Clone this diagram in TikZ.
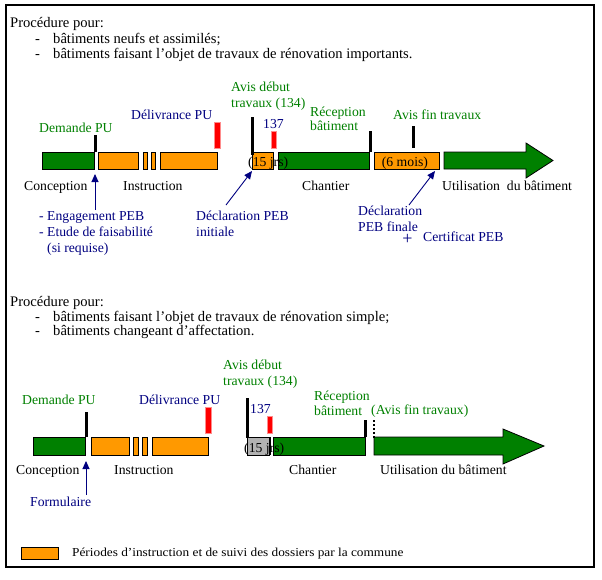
\documentclass[tikz,border=0pt]{standalone}
\usepackage{fontspec}
\setmainfont{Liberation Serif}
\usetikzlibrary{arrows.meta}
\definecolor{pgreen}{HTML}{008000}
\definecolor{porange}{HTML}{FF9900}
\definecolor{pnavy}{HTML}{000080}
\definecolor{pred}{HTML}{FF0000}
\definecolor{pgrey}{HTML}{B2B2B2}
\begin{document}
\begin{tikzpicture}[x=1pt,y=-1pt,
  lbl/.style={anchor=base west, inner sep=0pt, font=\fontsize{13.7}{16}\selectfont},
  para/.style={lbl, font=\fontsize{14.6}{17}\selectfont},
  gtxt/.style={lbl, text=pgreen},
  btxt/.style={lbl, text=pnavy},
  bar/.style={draw=black, line width=0.8pt},
  gbar/.style={bar, fill=pgreen},
  obar/.style={bar, fill=porange},
  greybar/.style={bar, fill=pgrey},
  rbar/.style={fill=pred, draw=pred!45, line width=0.6pt},
  tickline/.style={line width=3pt, black},
  pebarrow/.style={-{Triangle[length=8pt,width=7pt]}, draw=pnavy, line width=0.9pt},
  bigarrow/.style={draw=black, line width=0.8pt, fill=pgreen}]
\useasboundingbox (0,0) rectangle (602,579);
\draw[line width=1.5pt] (6,5) rectangle (594,567);

% ---------- Section 1 ----------
\node[para] (t1) at (10,27) {Procédure pour:};
\node[para] (d1a) at (35,43) {-};
\node[para] (l1a) at (53,43) {bâtiments neufs et assimilés;};
\node[para] (d1b) at (35,58.5) {-};
\node[para] (l1b) at (53,58.5) {bâtiments faisant l’objet de travaux de rénovation importants.};

% bars
\draw[gbar] (42,152) rectangle (94,169);
\draw[obar] (98,152) rectangle (138,169);
\draw[obar] (143,152) rectangle (147,169);
\draw[obar] (151,152) rectangle (155,169);
\draw[obar] (160,152) rectangle (217,169);
\draw[obar] (252,152) rectangle (273,169);
\draw[gbar] (278,152) rectangle (369,169);
\draw[obar] (374,152) rectangle (439,169);
\draw[bigarrow] (444,152) -- (526,152) -- (526,143) -- (553,160.5) -- (526,178) -- (526,169) -- (444,169) -- cycle;
\fill[rbar] (214,122) rectangle (220,148);
\fill[rbar] (271,131) rectangle (276,148);
\draw[tickline] (95,135) -- (95,152);
\draw[tickline] (252,117) -- (252,155);
\draw[tickline] (370,131) -- (370,152);
\draw[tickline] (413,126) -- (413,148);

\node[gtxt] (ad1) at (231,91.7) {Avis début};
\node[gtxt] (ad1b) at (231,107.3) {travaux (134)};
\node[btxt] (dl1) at (131,119.5) {Délivrance PU};
\node[gtxt] (dm1) at (39,132.7) {Demande PU};
\node[btxt] (n137a) at (263,128.3) {137};
\node[gtxt] (rc1) at (310,116) {Réception};
\node[gtxt] (rc1b) at (310,130.7) {bâtiment};
\node[gtxt] (af1) at (393,119.3) {Avis fin travaux};
\node[lbl] (j1) at (248,166.5) {(15 jrs)};
\node[lbl] (m6) at (381.7,166) {(6 mois)};
\node[lbl] (cp1) at (24,190) {Conception};
\node[lbl] (in1) at (123,190) {Instruction};
\node[lbl] (ch1) at (302,190) {Chantier};
\node[lbl] (ut1) at (442,190) {Utilisation\ \ du bâtiment};

\node[btxt] (eg1) at (39,220.7) {- Engagement PEB};
\node[btxt] (et1) at (39,236.7) {- Etude de faisabilité};
\node[btxt] (sr1) at (47,252.5) {(si requise)};
\node[btxt] (dpi) at (196,220.7) {Déclaration PEB};
\node[btxt] (dpi2) at (196,236.7) {initiale};
\node[btxt] (dpf) at (358,215.7) {Déclaration};
\node[btxt] (dpf2) at (358,231.7) {PEB finale};
\node[text=pnavy, inner sep=0pt, font=\fontsize{18}{18}\selectfont] (plus) at (407.5,239) {+};
\node[btxt] (cert) at (423,241.7) {Certificat PEB};

\coordinate (a1s) at (95,210);
\coordinate (a1e) at (95,174);
\coordinate (a2s) at (226,205);
\coordinate (a2e) at (252,171);
\coordinate (a3s) at (409,205);
\coordinate (a3e) at (435,171);
\draw[pebarrow] (a1s) -- (a1e);
\draw[pebarrow] (a2s) -- (a2e);
\draw[pebarrow] (a3s) -- (a3e);

% ---------- Section 2 ----------
\node[para] (t2) at (10,306) {Procédure pour:};
\node[para] (d2a) at (35,321) {-};
\node[para] (l2a) at (53,321) {bâtiments faisant l’objet de travaux de rénovation simple;};
\node[para] (d2b) at (35,335.5) {-};
\node[para] (l2b) at (53,335.5) {bâtiments changeant d’affectation.};

\draw[gbar] (33,437) rectangle (85,455);
\draw[obar] (91,437) rectangle (129,455);
\draw[obar] (133,437) rectangle (138,455);
\draw[obar] (142,437) rectangle (147,455);
\draw[obar] (152,437) rectangle (208,455);
\draw[greybar] (247,437) rectangle (269,455);
\draw[black, line width=1.5pt] (270,437) -- (270,455);
\draw[gbar] (273,437) rectangle (365,455);
\draw[bigarrow] (374,437) -- (503,437) -- (503,429) -- (544,446) -- (503,464) -- (503,455) -- (374,455) -- cycle;
\fill[rbar] (205,407) rectangle (211,433);
\fill[rbar] (267,416) rectangle (272,433);
\draw[tickline] (86,412) -- (86,437);
\draw[tickline] (247,398) -- (247,438);
\draw[tickline] (365,420) -- (365,437);
\draw[black, line width=2.5pt, dash pattern=on 2pt off 2pt] (374,420) -- (374,438);

\node[gtxt] (ad2) at (223,369) {Avis début};
\node[gtxt] (ad2b) at (223,385.5) {travaux (134)};
\node[gtxt] (dm2) at (22,404.3) {Demande PU};
\node[btxt] (dl2) at (139,404.3) {Délivrance PU};
\node[btxt] (n137b) at (250,413.3) {137};
\node[gtxt] (rc2) at (314,400) {Réception};
\node[gtxt] (rc2b) at (314,415.7) {bâtiment};
\node[gtxt] (af2) at (371,414) {(Avis fin travaux)};
\node[lbl] (j2) at (244,452.7) {(15 jrs)};
\node[lbl] (cp2) at (16,474) {Conception};
\node[lbl] (in2) at (114,474) {Instruction};
\node[lbl] (ch2) at (289,474) {Chantier};
\node[lbl] (ut2) at (380,474) {Utilisation du bâtiment};
\node[btxt] (fm) at (30,506.7) {Formulaire};

\coordinate (a4s) at (86,495);
\coordinate (a4e) at (86,461);
\draw[pebarrow] (a4s) -- (a4e);

% ---------- Legend ----------
\draw[obar] (21,547) rectangle (58,559);
\node[lbl, font=\fontsize{12.2}{14}\selectfont] (leg) at (72,556) {\scalebox{1.09}[1]{Périodes d’instruction et de suivi des dossiers par la commune}};
\end{tikzpicture}
\end{document}
